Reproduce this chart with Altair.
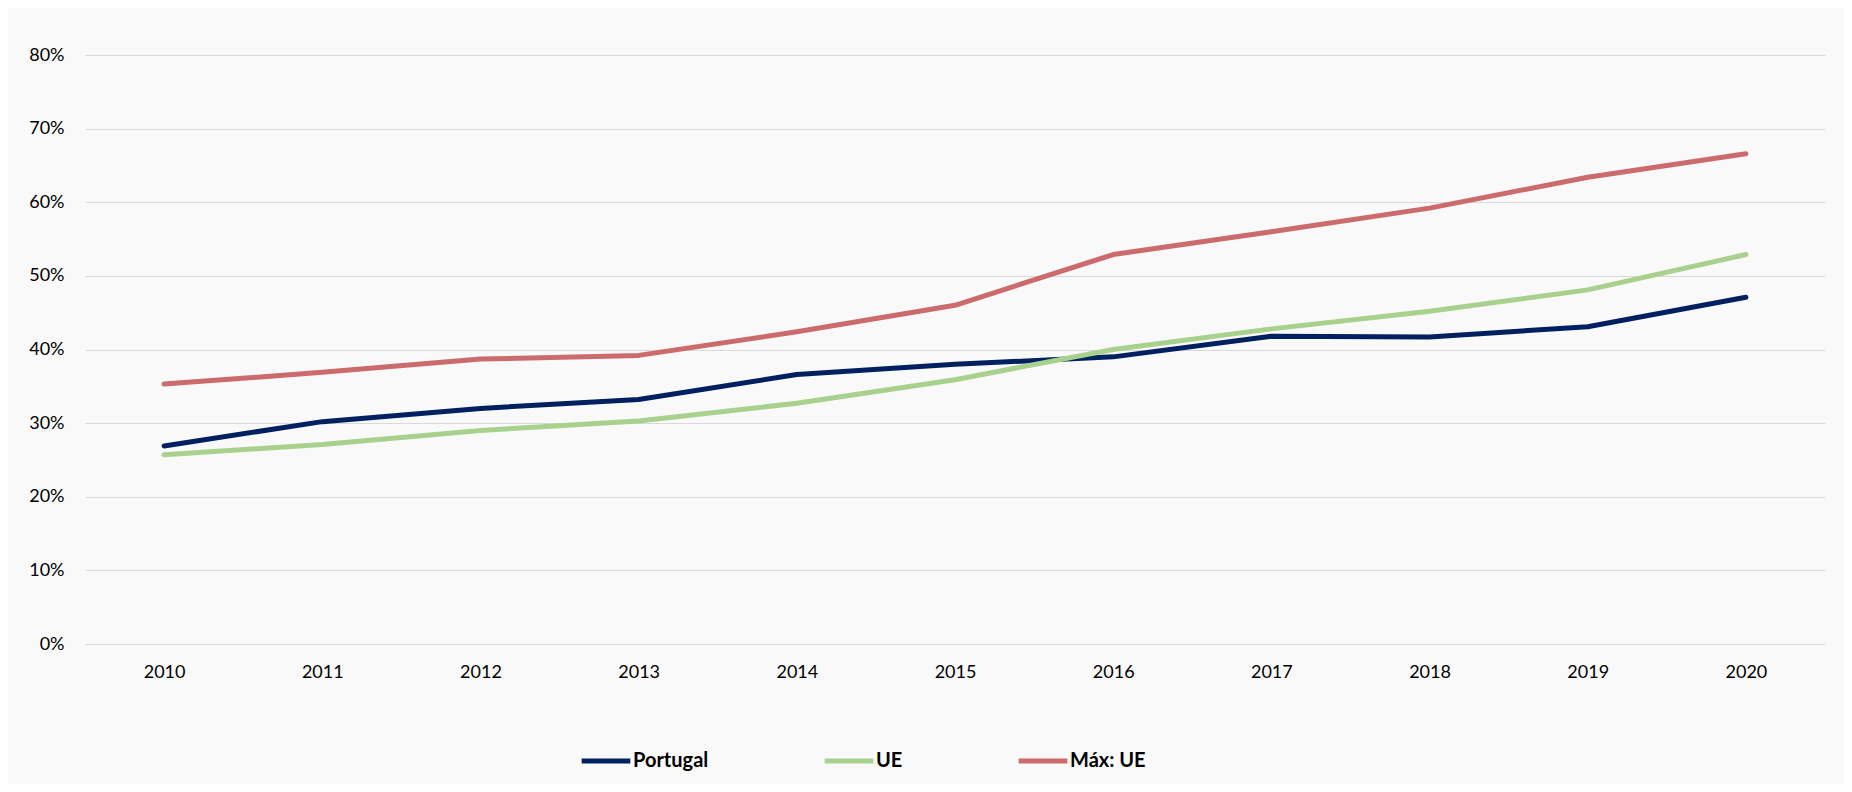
import altair as alt
import pandas as pd

anos = [2010, 2011, 2012, 2013, 2014, 2015, 2016, 2017, 2018, 2019, 2020]
portugal = [26.9, 30.2, 32.0, 33.2, 36.6, 38.0, 39.0, 41.8, 41.7, 43.1, 47.1]
ue = [25.7, 27.1, 29.0, 30.3, 32.7, 35.9, 40.0, 42.8, 45.2, 48.1, 52.9]
max_ue = [35.3, 36.9, 38.7, 39.2, 42.4, 46.0, 52.9, 56.0, 59.2, 63.4, 66.6]

series_names = ["Portugal", "UE", "Máx: UE"]
series_colors = ["#002060", "#A9D18E", "#CC6B6B"]

rows = []
for name, vals in zip(series_names, [portugal, ue, max_ue]):
    for a, v in zip(anos, vals):
        rows.append({"Ano": str(a), "Valor": v / 100.0, "Série": name})
df = pd.DataFrame(rows)

FONT = "Lato"

chart = (
    alt.Chart(df)
    .mark_line(strokeWidth=5, strokeCap="round", strokeJoin="round")
    .encode(
        x=alt.X(
            "Ano:O",
            title=None,
            sort=[str(a) for a in anos],
            scale=alt.Scale(padding=0.5),
            axis=alt.Axis(
                labelAngle=0,
                grid=False,
                domain=False,
                ticks=False,
                labelPadding=19,
                labelFontSize=18,
                labelFont=FONT,
                labelColor="#000000",
            ),
        ),
        y=alt.Y(
            "Valor:Q",
            title=None,
            scale=alt.Scale(domain=[0, 0.8], nice=False, zero=True),
            axis=alt.Axis(
                format=".0%",
                values=[0, 0.1, 0.2, 0.3, 0.4, 0.5, 0.6, 0.7, 0.8],
                grid=True,
                gridColor="#d9d9d9",
                gridWidth=1.2,
                domain=False,
                ticks=False,
                labelPadding=21,
                labelFontSize=18,
                labelFont=FONT,
                labelColor="#000000",
            ),
        ),
        color=alt.Color(
            "Série:N",
            scale=alt.Scale(domain=series_names, range=series_colors),
            legend=alt.Legend(
                title=None,
                orient="none",
                direction="horizontal",
                legendX=494,
                legendY=679,
                symbolType="stroke",
                symbolSize=2370,
                symbolStrokeWidth=5,
                labelFontSize=20,
                labelFontWeight="bold",
                labelFont=FONT,
                labelColor="#000000",
                labelOffset=0,
                columnPadding=105,
                padding=0,
            ),
        ),
    )
    .properties(
        width=1740,
        height=589,
        background="#f9f9f9",
        padding={"left": 77, "top": 47, "right": 19, "bottom": 140},
        autosize=alt.AutoSizeParams(type="none"),
    )
    .configure_view(stroke=None)
)

chart.save("out.html", embed_options={"renderer": "svg", "actions": False})
